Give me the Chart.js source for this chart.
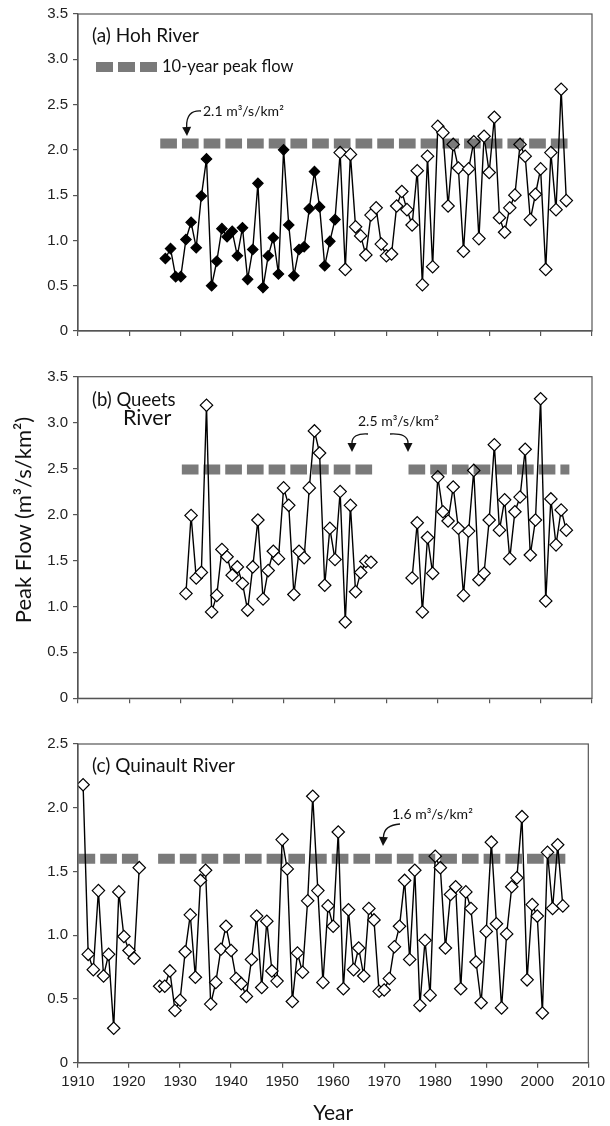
<!DOCTYPE html>
<html>
<head>
<meta charset="utf-8">
<script src="https://cdn.jsdelivr.net/npm/chart.js"></script>
<style>
    body { margin: 0; background: #fff; width: 610px; height: 1126px; position: relative; overflow: hidden; }
    .panel { position: absolute; left: 0; width: 610px; }
    #yTitle {
        position: absolute; left: -128px; top: 507px; width: 300px; height: 26px;
        line-height: 26px; text-align: center; transform: rotate(-90deg);
        font: 22px Lato, sans-serif; color: #111;
    }
</style>
</head>
<body>
<div class="panel" style="top:0;height:345px"><canvas id="chartHoh"></canvas></div>
<div class="panel" style="top:345px;height:370px"><canvas id="chartQueets"></canvas></div>
<div class="panel" style="top:715px;height:411px"><canvas id="chartQuinault"></canvas></div>
<div id="yTitle">Peak Flow (m³/s/km²)</div>

<script>
/* ------------------------------- Data -------------------------------*/

const YEAR_MIN = 1910;
const YEAR_MAX = 2010;

// (a) Hoh River - solid diamonds 1927-1960, open diamonds 1961-2005
const HOH_FILLED_START = 1927;
const hohFilled = [0.80, 0.91, 0.60, 0.60, 1.01, 1.20, 0.92, 1.49, 1.90, 0.50,
                   0.77, 1.13, 1.04, 1.10, 0.83, 1.14, 0.57, 0.90, 1.63, 0.48,
                   0.83, 1.03, 0.63, 2.00, 1.17, 0.61, 0.90, 0.93, 1.35, 1.76,
                   1.37, 0.72, 0.99, 1.23];
const HOH_OPEN_START = 1961;
const hohOpen = [1.97, 0.68, 1.95, 1.15, 1.05, 0.84, 1.28, 1.36, 0.96, 0.83,
                 0.85, 1.38, 1.54, 1.34, 1.17, 1.77, 0.51, 1.93, 0.71, 2.26,
                 2.19, 1.38, 2.06, 1.80, 0.88, 1.79, 2.09, 1.02, 2.15, 1.75,
                 2.36, 1.25, 1.09, 1.36, 1.50, 2.06, 1.93, 1.23, 1.51, 1.79,
                 0.68, 1.97, 1.34, 2.67, 1.44];
const hohPeak = 2.07;
const hohPeakSpans = [[1926, 2005.6]];

// (b) Queets River - 1931-2005, no record 1968-1974
const QUEETS_START = 1931;
const queetsFlow = [1.14, 1.99, 1.31, 1.37, 3.19, 0.94, 1.12, 1.62, 1.54, 1.34,
                    1.43, 1.25, 0.96, 1.43, 1.94, 1.08, 1.39, 1.60, 1.52, 2.29,
                    2.10, 1.13, 1.60, 1.53, 2.29, 2.91, 2.67, 1.23, 1.85, 1.51,
                    2.25, 0.83, 2.10, 1.16, 1.37, 1.49, 1.48,
                    null, null, null, null, null, null, null,
                    1.31, 1.91, 0.94, 1.75, 1.36, 2.41, 2.03, 1.93, 2.30, 1.85,
                    1.12, 1.82, 2.48, 1.29, 1.36, 1.94, 2.76, 1.83, 2.16, 1.52,
                    2.03, 2.19, 2.71, 1.56, 1.94, 3.26, 1.06, 2.17, 1.67, 2.05,
                    1.83];
const queetsPeak = 2.49;
const queetsPeakSpans = [[1930.2, 1967.5], [1974.3, 2005.6]];

// (c) Quinault River - 1911-2005, no record 1923-1925
const QUINAULT_START = 1911;
const quinaultFlow = [2.18, 0.85, 0.73, 1.35, 0.68, 0.85, 0.27, 1.34, 0.99, 0.88,
                      0.82, 1.53, null, null, null,
                      0.60, 0.60, 0.72, 0.41, 0.49, 0.87, 1.16, 0.67, 1.43, 1.51,
                      0.46, 0.63, 0.89, 1.07, 0.88, 0.66, 0.62, 0.52, 0.81, 1.15,
                      0.59, 1.11, 0.72, 0.64, 1.75, 1.52, 0.48, 0.86, 0.71, 1.27,
                      2.09, 1.35, 0.63, 1.23, 1.07, 1.81, 0.58, 1.20, 0.73, 0.90,
                      0.68, 1.21, 1.12, 0.56, 0.57, 0.66, 0.91, 1.07, 1.43, 0.81,
                      1.51, 0.45, 0.96, 0.53, 1.62, 1.53, 0.90, 1.32, 1.38, 0.58,
                      1.34, 1.21, 0.79, 0.47, 1.03, 1.73, 1.09, 0.43, 1.01, 1.38,
                      1.45, 1.93, 0.65, 1.24, 1.15, 0.39, 1.65, 1.21, 1.71, 1.23];
const quinaultPeak = 1.60;
const quinaultPeakSpans = [[1910.1, 1921.8], [1925.7, 2005.5]];

/* ------------------------------- Styles -------------------------------*/

const AXIS_COLOR = '#555';
const PEAK_COLOR = 'rgba(0,0,0,0.52)';
const TICK_FONT = { family: 'Liberation Sans, Arial, sans-serif', size: 15 };
const LABEL_FAMILY = 'Lato, sans-serif';

function toPoints(start, values) {
    return values.map(function (v, i) { return { x: start + i, y: v }; });
}

/* ------------------------------- Decorations -------------------------------*/

function drawArrow(ctx, a) {
    var dx = a.to[0] - a.ctrl[0], dy = a.to[1] - a.ctrl[1];
    var len = Math.sqrt(dx * dx + dy * dy);
    var ux = dx / len, uy = dy / len;
    var head = 9, half = 4.5;
    var bx = a.to[0] - ux * head, by = a.to[1] - uy * head;

    ctx.beginPath();
    ctx.moveTo(a.from[0], a.from[1]);
    ctx.quadraticCurveTo(a.ctrl[0], a.ctrl[1], bx, by);
    ctx.strokeStyle = '#111';
    ctx.lineWidth = 1.3;
    ctx.stroke();

    ctx.beginPath();
    ctx.moveTo(a.to[0], a.to[1]);
    ctx.lineTo(bx - uy * half, by + ux * half);
    ctx.lineTo(bx + uy * half, by - ux * half);
    ctx.closePath();
    ctx.fillStyle = '#111';
    ctx.fill();
}

const decorPlugin = {
    id: 'decor',
    afterDatasetsDraw: function (chart, args, opts) {
        var ctx = chart.ctx;
        var area = chart.chartArea;
        ctx.save();

        ctx.strokeStyle = AXIS_COLOR;                                   // рамка навколо графіка
        ctx.lineWidth = 1.2;
        ctx.strokeRect(area.left, area.top, area.right - area.left, area.bottom - area.top);

        (opts.legend || []).forEach(function (r) {                      // легенда (три штрихи)
            ctx.fillStyle = PEAK_COLOR;
            ctx.fillRect(r[0], r[1], r[2], r[3]);
        });

        ctx.textBaseline = 'middle';
        ctx.textAlign = 'left';
        (opts.texts || []).forEach(function (t) {
            ctx.fillStyle = '#111';
            ctx.font = t.size + 'px ' + (t.family || LABEL_FAMILY);
            ctx.fillText(t.text, t.x, t.y);
        });

        (opts.arrows || []).forEach(function (a) { drawArrow(ctx, a); });
        ctx.restore();
    }
};

/* ------------------------------- Charts -------------------------------*/

function makePanel(canvasId, p) {
    var datasets = [];

    p.peakSpans.forEach(function (span) {                               // 10-year peak flow
        datasets.push({
            data: [{ x: span[0], y: p.peak }, { x: span[1], y: p.peak }],
            borderColor: PEAK_COLOR,
            borderWidth: 10,
            borderDash: [16.7, 5],
            borderCapStyle: 'butt',
            pointRadius: 0,
            fill: false
        });
    });

    datasets.push({
        data: p.points,
        borderColor: '#000',
        borderWidth: 1.4,
        tension: 0,
        spanGaps: false,
        pointStyle: 'rectRot',
        pointRadius: function (c) { return c.raw && c.raw.x <= p.lastFilled ? 5.2 : 6.2; },
        pointBackgroundColor: function (c) { return c.raw && c.raw.x <= p.lastFilled ? '#000' : '#fff'; },
        pointBorderColor: '#000',
        pointBorderWidth: 1.2
    });

    var ctx = document.getElementById(canvasId).getContext('2d');
    return new Chart(ctx, {
        type: 'line',
        data: { datasets: datasets },
        options: {
            responsive: true,
            maintainAspectRatio: false,
            animation: false,
            events: [],
            layout: { padding: { top: p.padTop, right: 18, left: 0, bottom: 0 } },
            plugins: {
                legend: { display: false },
                tooltip: { enabled: false },
                decor: p.decor
            },
            scales: {
                x: {
                    type: 'linear',
                    min: YEAR_MIN,
                    max: YEAR_MAX,
                    afterFit: function (s) { s.height = p.xHeight; },
                    ticks: {
                        stepSize: 10,
                        display: p.showYears,
                        autoSkip: false,
                        maxRotation: 0,
                        padding: 5,
                        color: '#222',
                        font: TICK_FONT,
                        callback: function (v) { return String(v); }
                    },
                    grid: { drawOnChartArea: false, drawTicks: true, tickLength: 5, color: AXIS_COLOR, lineWidth: 1.2 },
                    border: { color: AXIS_COLOR, width: 1.2 },
                    title: {
                        display: p.showYears,
                        text: 'Year',
                        color: '#111',
                        padding: { top: 0, bottom: 0 },
                        font: { family: LABEL_FAMILY, size: 21 }
                    }
                },
                y: {
                    min: 0,
                    max: p.yMax,
                    afterFit: function (s) { s.width = 78; },
                    ticks: {
                        stepSize: 0.5,
                        padding: 5,
                        color: '#222',
                        font: TICK_FONT,
                        callback: function (v) { return v === 0 ? '0' : v.toFixed(1); }
                    },
                    grid: { drawOnChartArea: false, drawTicks: true, tickLength: 5, color: AXIS_COLOR, lineWidth: 1.2 },
                    border: { color: AXIS_COLOR, width: 1.2 }
                }
            }
        },
        plugins: [decorPlugin]
    });
}

makePanel('chartHoh', {
    points: toPoints(HOH_FILLED_START, hohFilled).concat(toPoints(HOH_OPEN_START, hohOpen)),
    lastFilled: HOH_OPEN_START - 1,
    peak: hohPeak,
    peakSpans: hohPeakSpans,
    yMax: 3.5,
    padTop: 12.7,
    xHeight: 11.7,
    showYears: false,
    decor: {
        legend: [[96, 62, 17, 10], [118, 62, 17, 10], [140, 62, 17, 10]],
        texts: [
            { text: '(a) Hoh River', x: 92, y: 36, size: 19 },
            { text: '10-year peak flow', x: 162, y: 67, size: 16.5 },
            { text: '2.1 m³/s/km²', x: 203, y: 111, size: 14 }
        ],
        arrows: [{ from: [201, 111], ctrl: [186, 110], to: [187, 136] }]
    }
});

makePanel('chartQueets', {
    points: toPoints(QUEETS_START, queetsFlow),
    lastFilled: 0,
    peak: queetsPeak,
    peakSpans: queetsPeakSpans,
    yMax: 3.5,
    padTop: 31.7,
    xHeight: 16.7,
    showYears: false,
    decor: {
        texts: [
            { text: '(b) Queets', x: 92, y: 55, size: 18.5 },
            { text: 'River', x: 123, y: 73, size: 21.5 },
            { text: '2.5 m³/s/km²', x: 358, y: 76, size: 14 }
        ],
        arrows: [
            { from: [368, 89], ctrl: [352, 88], to: [352, 107] },
            { from: [390, 89], ctrl: [408, 88], to: [408, 107] }
        ]
    }
});

makePanel('chartQuinault', {
    points: toPoints(QUINAULT_START, quinaultFlow),
    lastFilled: 0,
    peak: quinaultPeak,
    peakSpans: quinaultPeakSpans,
    yMax: 2.5,
    padTop: 29,
    xHeight: 63.3,
    showYears: true,
    decor: {
        texts: [
            { text: '(c) Quinault River', x: 92, y: 51, size: 19 },
            { text: '1.6 m³/s/km²', x: 392, y: 99, size: 14 }
        ],
        arrows: [{ from: [400, 109], ctrl: [384, 110], to: [383, 131] }]
    }
});
</script>
</body>
</html>
